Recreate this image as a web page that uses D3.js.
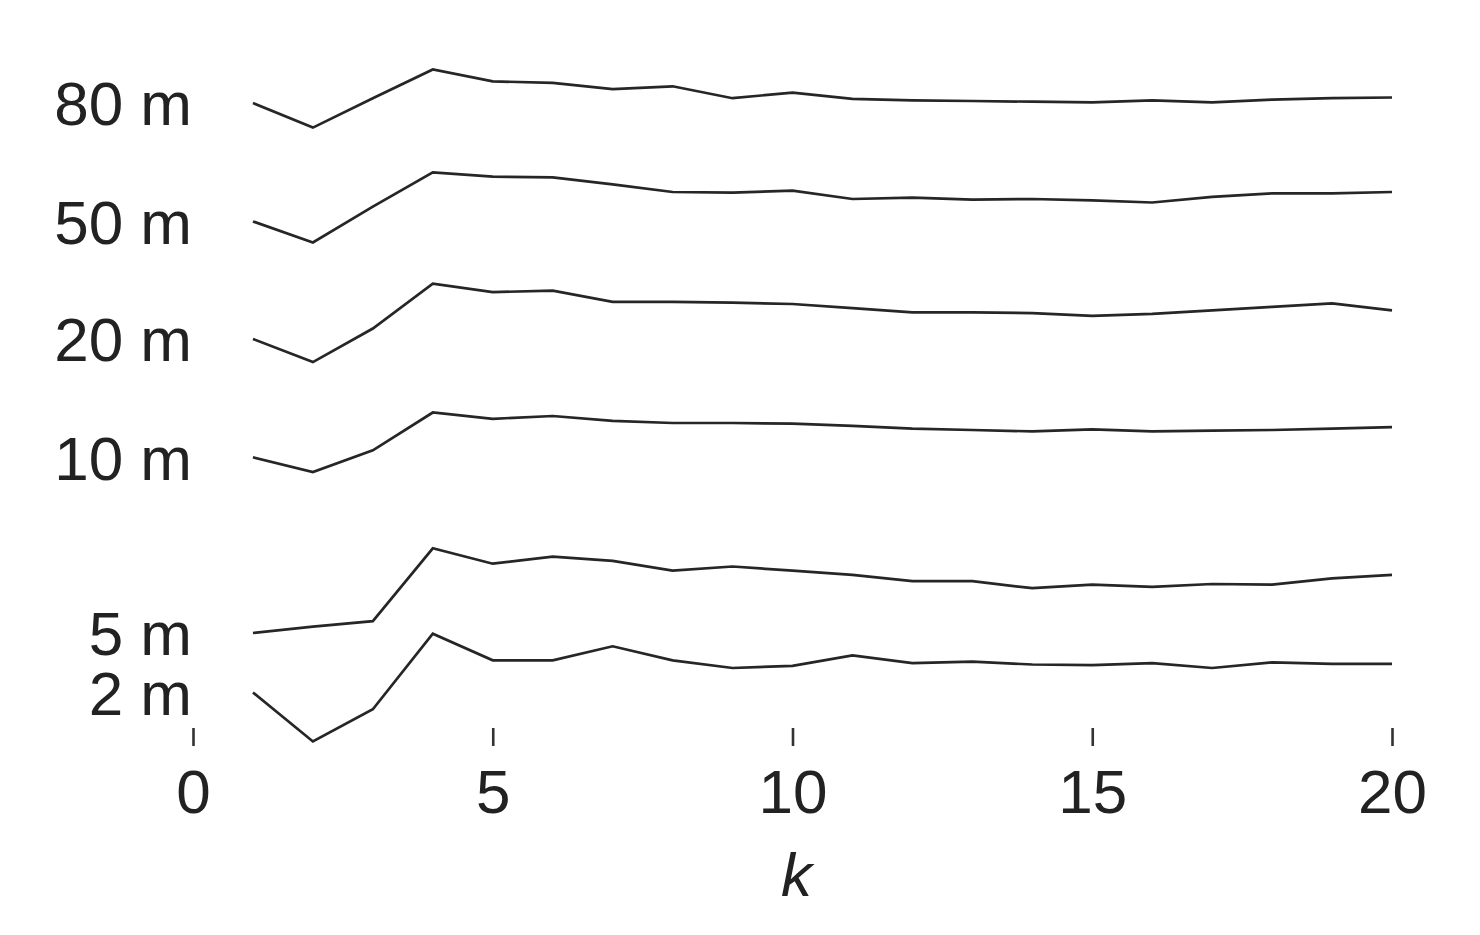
<!DOCTYPE html>
<html>
<head>
<meta charset="utf-8">
<script src="https://cdn.jsdelivr.net/npm/d3@7"></script>
<style>
  html, body { margin: 0; padding: 0; background: #fff; }
  svg { display: block; }
</style>
</head>
<body>
<svg id="chart" width="1480" height="935"></svg>
<script>
// k values (x axis)
const kValues = [1,2,3,4,5,6,7,8,9,10,11,12,13,14,15,16,17,18,19,20];
// Series labels (depth) and their values (arbitrary vertical units, stacked)
const seriesLabels = ["80 m", "50 m", "20 m", "10 m", "5 m", "2 m"];
const s80 = [91.7,88.2,92.4,96.5,94.8,94.6,93.7,94.1,92.4,93.2,92.3,92.1,92.0,91.9,91.8,92.1,91.8,92.2,92.4,92.5];
const s50 = [74.8,71.8,76.9,81.8,81.2,81.1,80.1,79.0,78.9,79.2,78.0,78.2,77.9,78.0,77.8,77.5,78.3,78.8,78.8,79.0];
const s20 = [58.0,54.7,59.5,65.9,64.7,64.9,63.3,63.3,63.2,63.0,62.4,61.8,61.8,61.7,61.3,61.6,62.1,62.6,63.1,62.1];
const s10 = [41.1,39.0,42.1,47.5,46.6,47.0,46.3,46.0,46.0,45.9,45.6,45.2,45.0,44.8,45.1,44.8,44.9,45.0,45.2,45.4];
const s5  = [16.0,16.9,17.7,28.1,25.9,26.9,26.3,24.9,25.5,24.9,24.3,23.4,23.4,22.4,22.9,22.6,23.0,22.9,23.8,24.3];
const s2  = [7.5,0.5,5.1,15.9,12.1,12.1,14.1,12.1,11.0,11.3,12.8,11.7,11.9,11.5,11.4,11.7,11.0,11.8,11.6,11.6];
const xTicks = [0,5,10,15,20];
const xLabel = "k";

const seriesValues = [s80, s50, s20, s10, s5, s2];

const svg = d3.select("#chart");
const x = d3.scaleLinear().domain([0, 20]).range([193, 1392]);
const y = d3.scaleLinear().domain([0, 100]).range([745, 45]);

const font = "'Liberation Sans', Arial, Helvetica, sans-serif";
const line = d3.line().x((d, i) => x(kValues[i])).y(d => y(d));

svg.append("g").selectAll("path")
  .data(seriesValues)
  .join("path")
  .attr("d", d => line(d))
  .attr("fill", "none")
  .attr("stroke", "#262626")
  .attr("stroke-width", 2.7)
  .attr("stroke-linejoin", "miter");

svg.append("g").selectAll("text")
  .data(seriesLabels)
  .join("text")
  .attr("x", 192)
  .attr("y", (d, i) => y(seriesValues[i][0]))
  .attr("dy", "0.36em")
  .attr("text-anchor", "end")
  .attr("font-family", font)
  .attr("font-size", 62)
  .attr("fill", "#222")
  .text(d => d);

const axis = d3.axisBottom(x).tickValues(xTicks).tickSize(18).tickPadding(23).tickFormat(d3.format("d"));
const gx = svg.append("g").attr("transform", "translate(0,728)").call(axis);
gx.select(".domain").remove();
gx.selectAll(".tick line").attr("stroke", "#333").attr("stroke-width", 2.6);
gx.selectAll(".tick text").attr("font-family", font).attr("font-size", 62).attr("fill", "#222");

svg.append("text")
  .attr("x", x(10) + 4)
  .attr("y", 896)
  .attr("text-anchor", "middle")
  .attr("font-family", font)
  .attr("font-style", "italic")
  .attr("font-size", 62)
  .attr("fill", "#222")
  .text(xLabel);
</script>
</body>
</html>
